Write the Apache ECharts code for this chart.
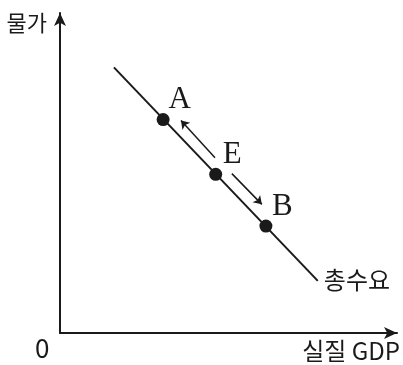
<!DOCTYPE html>
<html>
<head>
<meta charset="utf-8">
<script src="https://cdn.jsdelivr.net/npm/echarts@6/dist/echarts.min.js"></script>
<style>
  html, body { margin: 0; padding: 0; background: #fff; }
  #chart { width: 403px; height: 365px; }
</style>
</head>
<body>
<div id="chart"></div>
<script>
// 총수요 곡선 (x = 실질 GDP, y = 물가)
var demandLine = [[16, 83], [76.5, 16.3]];
// 곡선 위의 점
var pointNames = ['A', 'E', 'B'];
var pointX = [30.6, 46.2, 61.1];
var pointY = [66.7, 49.6, 33.4];
// E에서 A, B로 향하는 화살표
var arrowFrom = [[46, 54.8], [51, 49.8]];
var arrowTo = [[35.9, 66.4], [59.9, 40.2]];

var kr = '"Noto Sans CJK KR", "Noto Sans", sans-serif';
var ink = '#1a1a1a';

var myChart = echarts.init(document.getElementById('chart'), null, {renderer: 'canvas'});

var points = [];
for (var i = 0; i < pointNames.length; i++) {
    points.push({name: pointNames[i], value: [pointX[i], pointY[i]]});
}
var arrows = [];
for (var j = 0; j < arrowFrom.length; j++) {
    arrows.push({coords: [arrowFrom[j], arrowTo[j]]});
}

var option = {
    animation: false,
    backgroundColor: '#fff',
    grid: {left: 60, right: 6, top: 13, bottom: 32},
    xAxis: {
        type: 'value',
        min: 0,
        max: 100,
        name: '실질 GDP',
        nameLocation: 'end',
        nameGap: 3,
        nameTextStyle: {
            fontFamily: kr, fontSize: 24, color: ink,
            align: 'right', verticalAlign: 'top', padding: [6, 0, 0, 0]
        },
        axisLine: {
            lineStyle: {color: ink, width: 2},
            symbol: ['none', 'arrow'],
            symbolSize: [9, 13]
        },
        axisTick: {show: false},
        axisLabel: {show: false},
        splitLine: {show: false}
    },
    yAxis: {
        type: 'value',
        min: 0,
        max: 100,
        name: '물가',
        nameLocation: 'end',
        nameGap: -10,
        nameTextStyle: {
            fontFamily: kr, fontSize: 22, color: ink,
            align: 'right', verticalAlign: 'middle', padding: [0, 13, 0, 0]
        },
        axisLine: {
            lineStyle: {color: ink, width: 2},
            symbol: ['none', 'arrow'],
            symbolSize: [9, 13]
        },
        axisTick: {show: false},
        axisLabel: {show: false},
        splitLine: {show: false}
    },
    graphic: [{
        type: 'text',
        left: 35,
        top: 335,
        style: {text: '0', font: '26px ' + kr, fill: ink}
    }],
    series: [
        {
            type: 'line',
            data: demandLine,
            symbol: 'none',
            lineStyle: {color: ink, width: 2},
            endLabel: {
                show: true,
                formatter: '총수요',
                fontFamily: kr,
                fontSize: 24,
                color: ink,
                distance: 6,
                offset: [0, -1]
            },
            z: 2
        },
        {
            type: 'lines',
            coordinateSystem: 'cartesian2d',
            data: arrows,
            symbol: ['none', 'arrow'],
            symbolSize: 8,
            lineStyle: {color: ink, width: 1.5, opacity: 1},
            z: 3
        },
        {
            type: 'scatter',
            data: points,
            symbol: 'circle',
            symbolSize: 13,
            itemStyle: {color: ink, opacity: 1},
            label: {
                show: true,
                formatter: '{b}',
                position: [23, -13],
                align: 'center',
                verticalAlign: 'middle',
                fontFamily: '"Liberation Serif", "DejaVu Serif", serif',
                fontSize: 31,
                color: ink
            },
            z: 4
        }
    ]
};
myChart.setOption(option);
</script>
</body>
</html>
